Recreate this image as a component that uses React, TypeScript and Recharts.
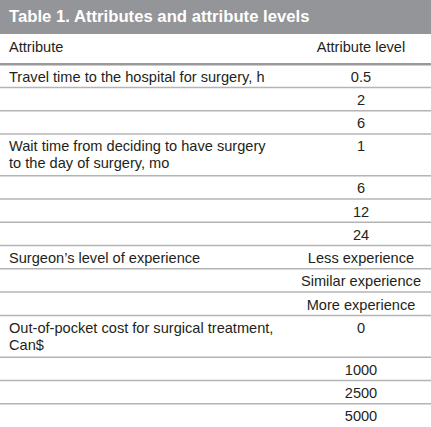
import { Scatter, ScatterChart, XAxis, YAxis } from 'recharts';

const title = 'Table 1. Attributes and attribute levels';
const columnHeads = ['Attribute', 'Attribute level'];
const attributes = [
  ['Travel time to the hospital for surgery, h'],
  ['Wait time from deciding to have surgery', 'to the day of surgery, mo'],
  ['Surgeon\u2019s level of experience'],
  ['Out-of-pocket cost for surgical treatment,', 'Can$'],
];
const levels = [
  ['0.5', '2', '6'],
  ['1', '6', '12', '24'],
  ['Less experience', 'Similar experience', 'More experience'],
  ['0', '1000', '2500', '5000'],
];

// row heights in "units" (one unit = one single-line row)
const rows: any[] = [];
let pos = 0;
rows.push({ x: 0, y: pos, left: [columnHeads[0]], right: columnHeads[1], head: true });
pos += 1.3;
attributes.forEach((attr, i) => {
  levels[i].forEach((lv, j) => {
    const left = j === 0 ? attr : [];
    rows.push({ x: 0, y: pos, left, right: lv, thick: rows.length === 1 });
    pos += j === 0 && attr.length > 1 ? 1.8 : 1;
  });
});
const total = pos;

const RowShape = (props: any) => {
  const { cx, cy, payload } = props;
  return (
    <g>
      {!payload.head && (
        <line x1={cx} x2={cx + 431} y1={cy} y2={cy} stroke={payload.thick ? '#9a9a9a' : '#b4b4b4'} strokeWidth={payload.thick ? 2.5 : 1.5} />
      )}
      {payload.left.map((t: string, k: number) => (
        <text key={k} x={cx + 9} y={cy + 17.5 + k * 17} fontSize={14.6} fill="#231f20">{t}</text>
      ))}
      <text x={cx + 361} y={cy + 17.5} fontSize={14.6} fill="#231f20" textAnchor="middle">{payload.right}</text>
    </g>
  );
};

export default function App() {
  return (
    <div style={{ position: 'absolute', left: 0, top: 0, width: 431, height: 427, background: '#fff', fontFamily: '"Liberation Sans", Arial, sans-serif', overflow: 'hidden' }}>
      <div style={{ height: 34, background: '#939598', color: '#fff', fontWeight: 'bold', fontSize: 16.7, lineHeight: '34px', paddingLeft: 9 }}>{title}</div>
      <ScatterChart width={431} height={393} margin={{ top: 0, right: 0, bottom: 0, left: 0 }}>
        <XAxis type="number" dataKey="x" domain={[0, 1]} hide />
        <YAxis type="number" dataKey="y" domain={[0, total]} reversed hide />
        <Scatter data={rows} shape={RowShape} isAnimationActive={false} />
      </ScatterChart>
    </div>
  );
}
